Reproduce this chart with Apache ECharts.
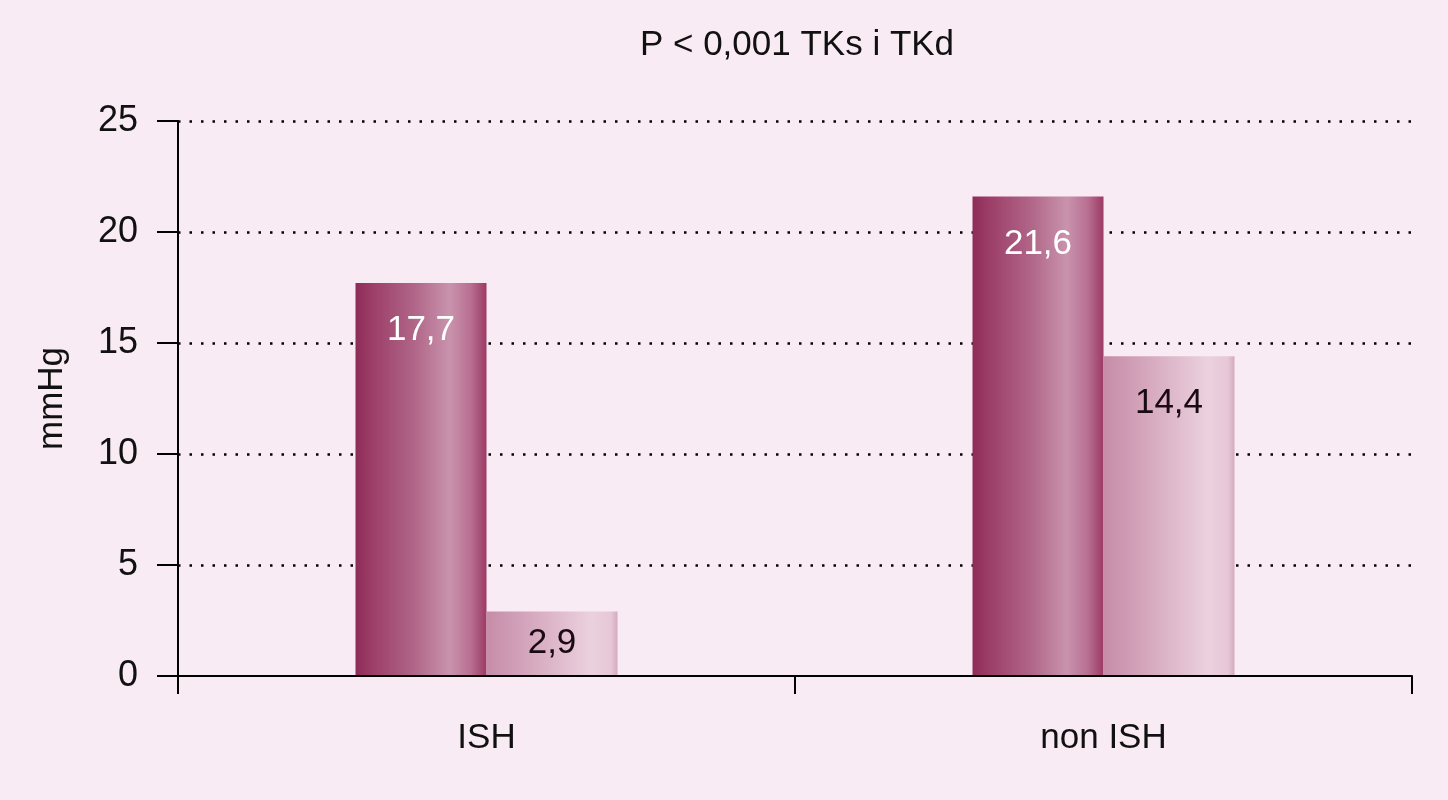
<!DOCTYPE html>
<html>
<head>
<meta charset="utf-8">
<script src="https://cdn.jsdelivr.net/npm/echarts@6/dist/echarts.min.js"></script>
<style>
html,body{margin:0;padding:0;background:#f9ebf3;}
#chart{width:1448px;height:800px;}
</style>
</head>
<body>
<div id="chart"></div>
<script>
const titleText = 'P < 0,001 TKs i TKd';
const categories = ['ISH', 'non ISH'];
const seriesSys = [17.7, 21.6];
const seriesDia = [2.9, 14.4];
const yTicks = [0, 5, 10, 15, 20, 25];
const yName = 'mmHg';

const font = '"Liberation Sans", Arial, sans-serif';
const fmt = p => String(p.value).replace('.', ',');

const darkGrad = {
  type: 'linear', x: 0, y: 0, x2: 1, y2: 0,
  colorStops: [
    {offset: 0, color: '#8d2c57'},
    {offset: 0.12, color: '#9c3d67'},
    {offset: 0.45, color: '#b06688'},
    {offset: 0.72, color: '#c993ad'},
    {offset: 0.88, color: '#b86f92'},
    {offset: 1, color: '#9c3a64'}
  ]
};
const lightGrad = {
  type: 'linear', x: 0, y: 0, x2: 1, y2: 0,
  colorStops: [
    {offset: 0, color: '#c68ca8'},
    {offset: 0.35, color: '#d6a9bf'},
    {offset: 0.8, color: '#ebd1de'},
    {offset: 0.95, color: '#e6c7d6'},
    {offset: 1, color: '#d5a9be'}
  ]
};

function items(vals) {
  return vals.map(v => v < 5 ? {value: v, label: {position: 'inside'}} : {value: v});
}

const chart = echarts.init(document.getElementById('chart'));
chart.setOption({
  backgroundColor: '#f9ebf3',
  animation: false,
  title: {
    text: titleText, left: 792, textAlign: 'center', top: 23,
    textStyle: {fontFamily: font, fontSize: 35, fontWeight: 'normal', color: '#111'}
  },
  grid: {left: 178, right: 36, top: 121, bottom: 124},
  xAxis: {
    type: 'category', data: categories, z: 5,
    axisLine: {lineStyle: {color: '#000', width: 2}},
    axisTick: {show: true, length: 18, lineStyle: {color: '#000', width: 2}},
    axisLabel: {fontFamily: font, fontSize: 35, color: '#111', margin: 45}
  },
  yAxis: {
    type: 'value', min: 0, max: 25, interval: 5,
    name: yName, nameLocation: 'middle', nameGap: 108, nameRotate: 90,
    nameTextStyle: {fontFamily: font, fontSize: 35, color: '#111'},
    axisLine: {show: true, lineStyle: {color: '#000', width: 2}},
    axisTick: {show: true, length: 21, lineStyle: {color: '#000', width: 2}},
    axisLabel: {fontFamily: font, fontSize: 36, color: '#111', margin: 40,
      formatter: v => yTicks.includes(v) ? String(v) : ''},
    splitLine: {show: true, showMinLine: false,
      lineStyle: {color: '#000', width: 2.5, type: [2.5, 9]}}
  },
  series: [
    {
      type: 'bar', data: items(seriesSys), barWidth: 131, barGap: '0%',
      itemStyle: {color: darkGrad},
      label: {show: true, position: 'insideTop', distance: 30, formatter: fmt,
        fontFamily: font, fontSize: 35, color: '#fff'}
    },
    {
      type: 'bar', data: items(seriesDia), barWidth: 131, barGap: '0%',
      itemStyle: {color: lightGrad},
      label: {show: true, position: 'insideTop', distance: 30, formatter: fmt,
        fontFamily: font, fontSize: 35, color: '#1a0a12'}
    }
  ]
});
</script>
</body>
</html>
